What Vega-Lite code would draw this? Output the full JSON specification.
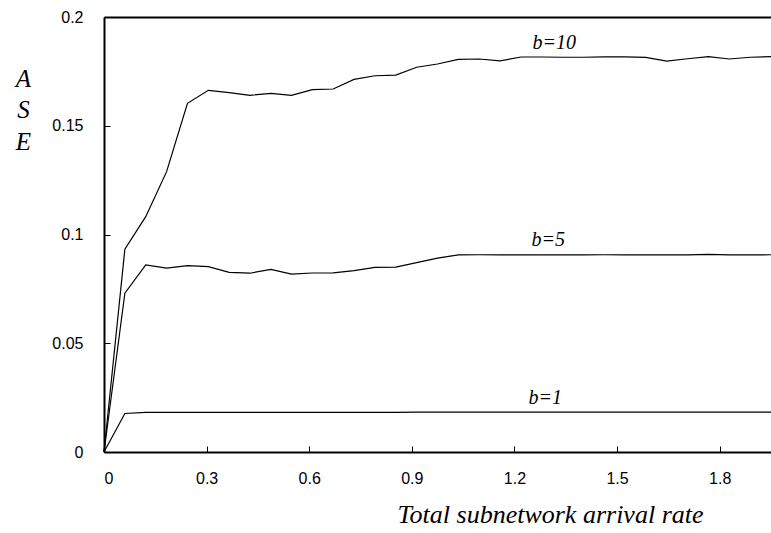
{
  "$schema": "https://vega.github.io/schema/vega-lite/v6.json",
  "autosize": {"type": "none"},
  "padding": {"left": 104, "top": 17, "right": 0, "bottom": 81},
  "width": 667,
  "height": 435,
  "background": "white",
  "config": {"view": {"stroke": null}},
  "datasets": {
    "lines": [
      {"rate": 0, "ase": 0, "b": "10"},
      {"rate": 0.061, "ase": 0.0932, "b": "10"},
      {"rate": 0.122, "ase": 0.1082, "b": "10"},
      {"rate": 0.183, "ase": 0.1289, "b": "10"},
      {"rate": 0.244, "ase": 0.1603, "b": "10"},
      {"rate": 0.305, "ase": 0.1663, "b": "10"},
      {"rate": 0.366, "ase": 0.1652, "b": "10"},
      {"rate": 0.427, "ase": 0.1640, "b": "10"},
      {"rate": 0.488, "ase": 0.1649, "b": "10"},
      {"rate": 0.548, "ase": 0.1640, "b": "10"},
      {"rate": 0.609, "ase": 0.1666, "b": "10"},
      {"rate": 0.670, "ase": 0.1669, "b": "10"},
      {"rate": 0.731, "ase": 0.1713, "b": "10"},
      {"rate": 0.792, "ase": 0.1730, "b": "10"},
      {"rate": 0.853, "ase": 0.1733, "b": "10"},
      {"rate": 0.914, "ase": 0.1769, "b": "10"},
      {"rate": 0.975, "ase": 0.1784, "b": "10"},
      {"rate": 1.036, "ase": 0.1805, "b": "10"},
      {"rate": 1.097, "ase": 0.1807, "b": "10"},
      {"rate": 1.158, "ase": 0.1798, "b": "10"},
      {"rate": 1.219, "ase": 0.1816, "b": "10"},
      {"rate": 1.280, "ase": 0.1816, "b": "10"},
      {"rate": 1.341, "ase": 0.1815, "b": "10"},
      {"rate": 1.402, "ase": 0.1815, "b": "10"},
      {"rate": 1.463, "ase": 0.1817, "b": "10"},
      {"rate": 1.523, "ase": 0.1817, "b": "10"},
      {"rate": 1.584, "ase": 0.1814, "b": "10"},
      {"rate": 1.645, "ase": 0.1797, "b": "10"},
      {"rate": 1.706, "ase": 0.1808, "b": "10"},
      {"rate": 1.767, "ase": 0.1818, "b": "10"},
      {"rate": 1.828, "ase": 0.1807, "b": "10"},
      {"rate": 1.889, "ase": 0.1815, "b": "10"},
      {"rate": 1.950, "ase": 0.1818, "b": "10"},
      {"rate": 0, "ase": 0, "b": "5"},
      {"rate": 0.061, "ase": 0.0730, "b": "5"},
      {"rate": 0.122, "ase": 0.0860, "b": "5"},
      {"rate": 0.183, "ase": 0.0845, "b": "5"},
      {"rate": 0.244, "ase": 0.0857, "b": "5"},
      {"rate": 0.305, "ase": 0.0852, "b": "5"},
      {"rate": 0.366, "ase": 0.0826, "b": "5"},
      {"rate": 0.427, "ase": 0.0822, "b": "5"},
      {"rate": 0.488, "ase": 0.0840, "b": "5"},
      {"rate": 0.548, "ase": 0.0818, "b": "5"},
      {"rate": 0.609, "ase": 0.0823, "b": "5"},
      {"rate": 0.670, "ase": 0.0824, "b": "5"},
      {"rate": 0.731, "ase": 0.0834, "b": "5"},
      {"rate": 0.792, "ase": 0.0849, "b": "5"},
      {"rate": 0.853, "ase": 0.0850, "b": "5"},
      {"rate": 0.914, "ase": 0.0871, "b": "5"},
      {"rate": 0.975, "ase": 0.0891, "b": "5"},
      {"rate": 1.036, "ase": 0.0906, "b": "5"},
      {"rate": 1.097, "ase": 0.0907, "b": "5"},
      {"rate": 1.158, "ase": 0.0906, "b": "5"},
      {"rate": 1.219, "ase": 0.0906, "b": "5"},
      {"rate": 1.280, "ase": 0.0906, "b": "5"},
      {"rate": 1.341, "ase": 0.0906, "b": "5"},
      {"rate": 1.402, "ase": 0.0906, "b": "5"},
      {"rate": 1.463, "ase": 0.0907, "b": "5"},
      {"rate": 1.523, "ase": 0.0906, "b": "5"},
      {"rate": 1.584, "ase": 0.0906, "b": "5"},
      {"rate": 1.645, "ase": 0.0906, "b": "5"},
      {"rate": 1.706, "ase": 0.0906, "b": "5"},
      {"rate": 1.767, "ase": 0.0909, "b": "5"},
      {"rate": 1.828, "ase": 0.0906, "b": "5"},
      {"rate": 1.889, "ase": 0.0906, "b": "5"},
      {"rate": 1.950, "ase": 0.0907, "b": "5"},
      {"rate": 0, "ase": 0, "b": "1"},
      {"rate": 0.061, "ase": 0.0177, "b": "1"},
      {"rate": 0.122, "ase": 0.0182, "b": "1"},
      {"rate": 0.183, "ase": 0.0182, "b": "1"},
      {"rate": 0.244, "ase": 0.0182, "b": "1"},
      {"rate": 0.305, "ase": 0.0182, "b": "1"},
      {"rate": 0.366, "ase": 0.0182, "b": "1"},
      {"rate": 0.427, "ase": 0.0182, "b": "1"},
      {"rate": 0.488, "ase": 0.0182, "b": "1"},
      {"rate": 0.548, "ase": 0.0182, "b": "1"},
      {"rate": 0.609, "ase": 0.0182, "b": "1"},
      {"rate": 0.670, "ase": 0.0182, "b": "1"},
      {"rate": 0.731, "ase": 0.0182, "b": "1"},
      {"rate": 0.792, "ase": 0.0182, "b": "1"},
      {"rate": 0.853, "ase": 0.0182, "b": "1"},
      {"rate": 0.914, "ase": 0.0183, "b": "1"},
      {"rate": 0.975, "ase": 0.0183, "b": "1"},
      {"rate": 1.036, "ase": 0.0183, "b": "1"},
      {"rate": 1.097, "ase": 0.0183, "b": "1"},
      {"rate": 1.158, "ase": 0.0183, "b": "1"},
      {"rate": 1.219, "ase": 0.0183, "b": "1"},
      {"rate": 1.280, "ase": 0.0183, "b": "1"},
      {"rate": 1.341, "ase": 0.0183, "b": "1"},
      {"rate": 1.402, "ase": 0.0183, "b": "1"},
      {"rate": 1.463, "ase": 0.0183, "b": "1"},
      {"rate": 1.523, "ase": 0.0183, "b": "1"},
      {"rate": 1.584, "ase": 0.0183, "b": "1"},
      {"rate": 1.645, "ase": 0.0183, "b": "1"},
      {"rate": 1.706, "ase": 0.0183, "b": "1"},
      {"rate": 1.767, "ase": 0.0183, "b": "1"},
      {"rate": 1.828, "ase": 0.0183, "b": "1"},
      {"rate": 1.889, "ase": 0.0183, "b": "1"},
      {"rate": 1.950, "ase": 0.0183, "b": "1"}
    ],
    "labels": [
      {"rate": 1.253, "ase": 0.1853, "text": "b=10"},
      {"rate": 1.25, "ase": 0.0947, "text": "b=5"},
      {"rate": 1.241, "ase": 0.0221, "text": "b=1"}
    ]
  },
  "layer": [
    {
      "data": {"name": "lines"},
      "mark": {"type": "line", "color": "black", "strokeWidth": 1.2},
      "encoding": {
        "x": {
          "field": "rate", "type": "quantitative",
          "scale": {"domain": [0, 1.95], "nice": false, "zero": false},
          "axis": {
            "values": [0, 0.3, 0.6, 0.9, 1.2, 1.5, 1.8],
            "format": "~g",
            "grid": false,
            "domainColor": "black", "domainWidth": 2,
            "tickColor": "black", "tickSize": -6, "tickWidth": 1,
            "labelFont": "Liberation Sans", "labelFontSize": 16, "labelColor": "black",
            "labelPadding": 32, "labelBaseline": "middle",
            "title": "Total subnetwork arrival rate",
            "titleFont": "Liberation Serif", "titleFontStyle": "italic", "titleFontWeight": "normal",
            "titleFontSize": 26, "titleColor": "black",
            "titleAnchor": "start", "titleAlign": "center",
            "titleX": 446, "titleY": 70, "titleBaseline": "alphabetic"
          }
        },
        "y": {
          "field": "ase", "type": "quantitative",
          "scale": {"domain": [0, 0.2], "nice": false},
          "axis": {
            "values": [0, 0.05, 0.1, 0.15, 0.2],
            "format": "~g",
            "grid": false,
            "domainColor": "black", "domainWidth": 2,
            "tickColor": "black", "tickSize": -6, "tickWidth": 1,
            "labelFont": "Liberation Sans", "labelFontSize": 16, "labelColor": "black",
            "labelPadding": 27,
            "title": ["A", "S", "E"],
            "titleFont": "Liberation Serif", "titleFontStyle": "italic", "titleFontWeight": "normal",
            "titleFontSize": 25, "titleColor": "black", "titleLineHeight": 31.5,
            "titleAngle": 0, "titleAnchor": "start", "titleAlign": "center",
            "titleX": -81, "titleY": 69, "titleBaseline": "alphabetic"
          }
        },
        "detail": {"field": "b", "type": "nominal"}
      }
    },
    {
      "data": {"name": "labels"},
      "mark": {"type": "text", "align": "left", "baseline": "alphabetic", "font": "Liberation Serif", "fontStyle": "italic", "fontSize": 20, "color": "black"},
      "encoding": {
        "x": {"field": "rate", "type": "quantitative", "axis": {"orient": "top", "title": null, "labels": false, "ticks": false, "grid": false, "domainColor": "black", "domainWidth": 2}},
        "y": {"field": "ase", "type": "quantitative"},
        "text": {"field": "text"}
      }
    }
  ],
  "resolve": {"axis": {"x": "independent"}}
}
